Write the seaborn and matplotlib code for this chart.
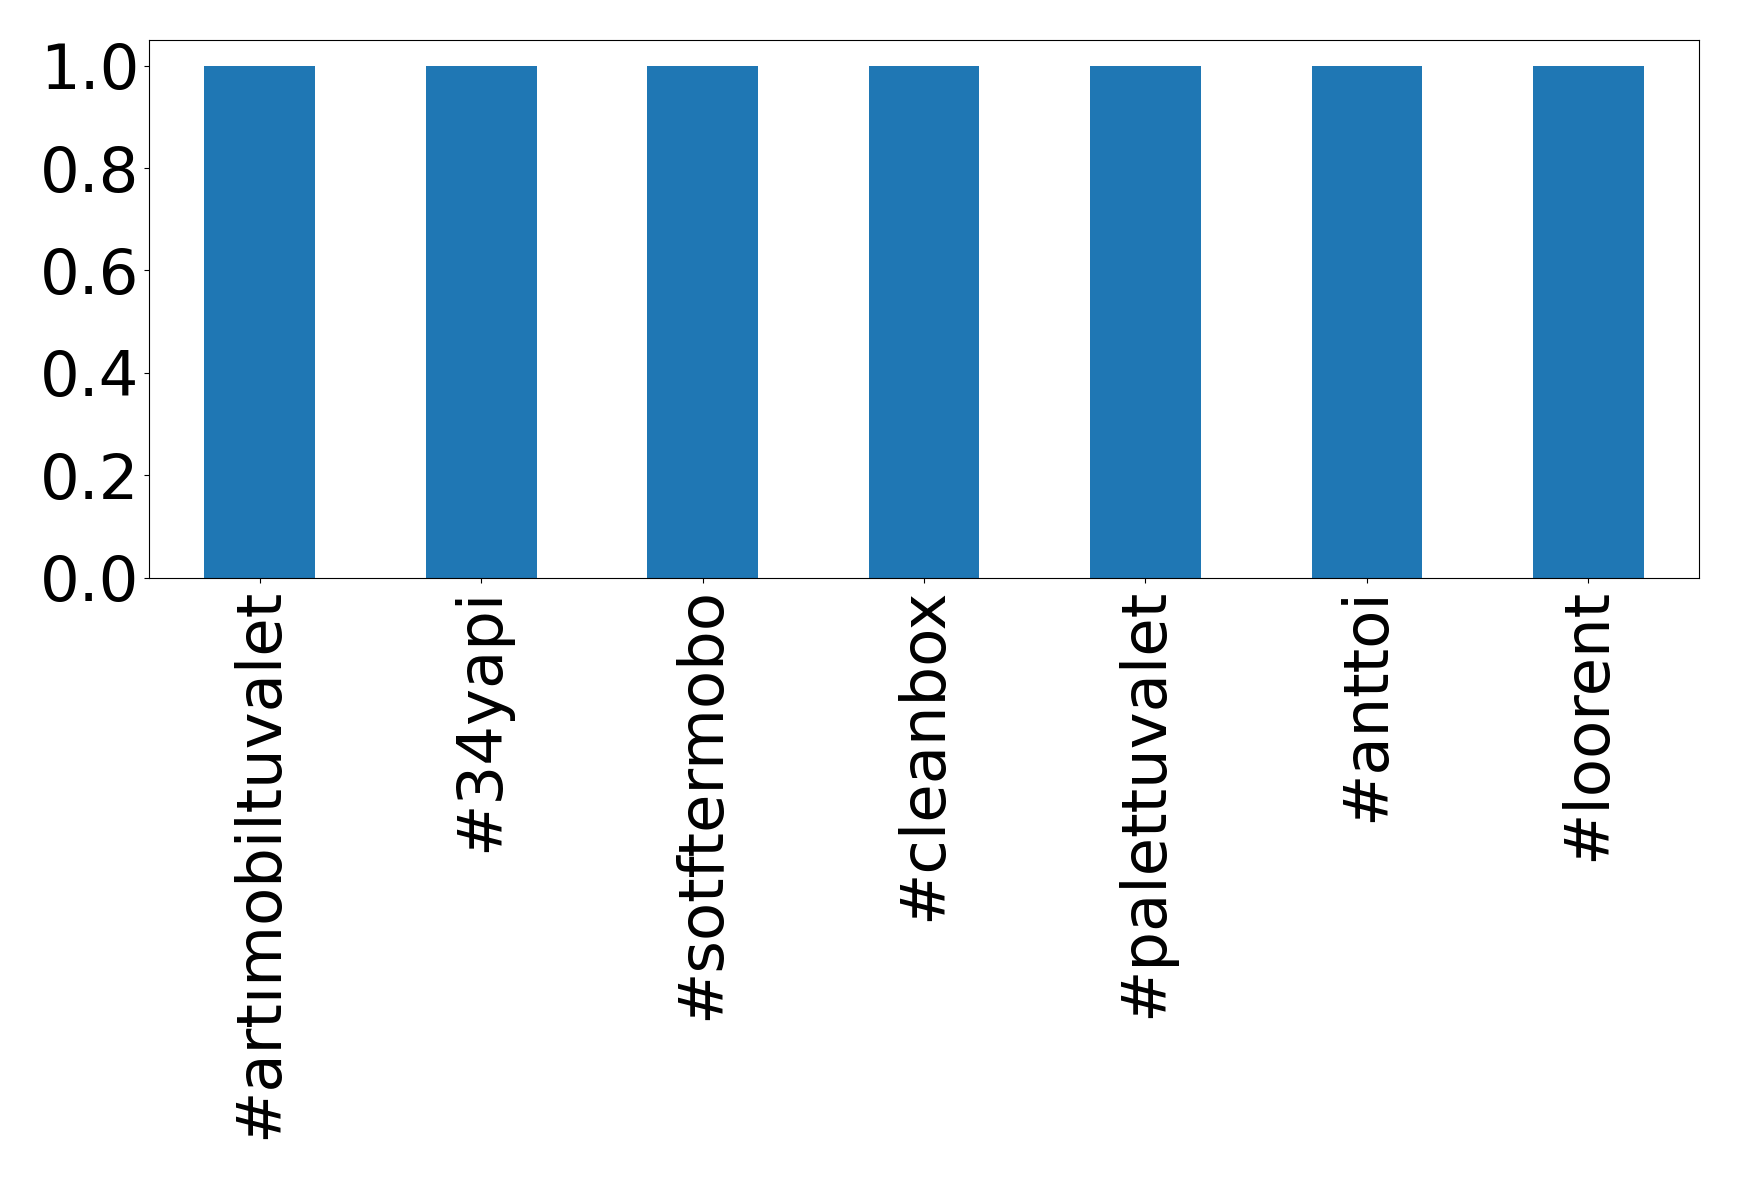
import pandas as pd
import matplotlib
matplotlib.use("Agg")
import matplotlib.pyplot as plt
import seaborn as sns

# hashtag counts
hashtags = ['#artımobiltuvalet', '#34yapi', '#sotftermobo', '#cleanbox',
            '#palettuvalet', '#anttoi', '#loorent']
counts = [1, 1, 1, 1, 1, 1, 1]
yticks = [0.0, 0.2, 0.4, 0.6, 0.8, 1.0]

df = pd.DataFrame({'hashtag': hashtags, 'count': counts})

fig, ax = plt.subplots(figsize=(17.39, 11.79), dpi=100)
fig.subplots_adjust(left=0.0857, right=0.977, top=0.966, bottom=0.510)

sns.barplot(data=df, x='hashtag', y='count', color='#1f77b4',
            saturation=1, width=0.5, ax=ax)

ax.set_xlim(-0.5, len(hashtags) - 0.5)
ax.set_ylim(0, 1.05)
ax.set_yticks(yticks)
ax.set_xlabel('')
ax.set_ylabel('')
ax.tick_params(axis='both', labelsize=45)
plt.xticks(rotation=90)

plt.savefig('out.png', dpi=100)
